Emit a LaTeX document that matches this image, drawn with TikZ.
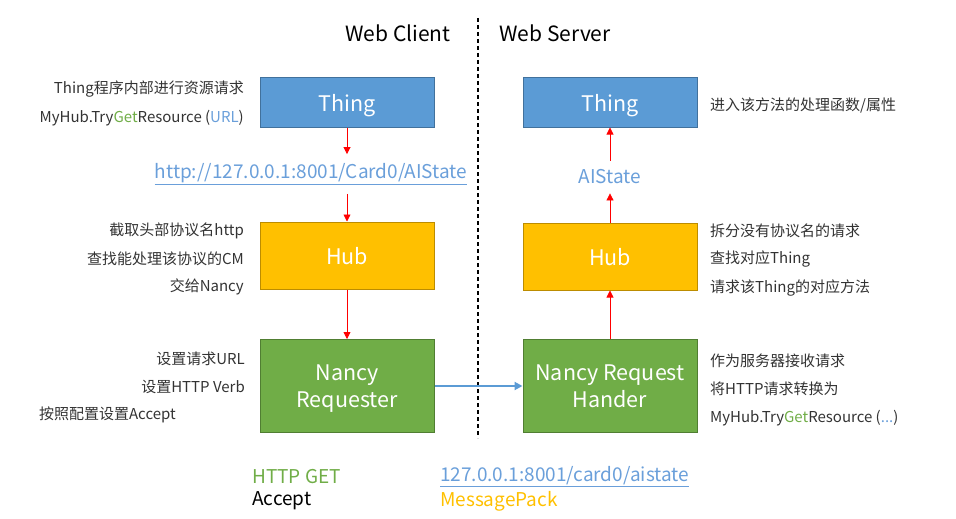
\documentclass[tikz,border=0pt]{standalone}
\usepackage{fontspec}
\setmainfont{Noto Sans CJK SC}
\usetikzlibrary{arrows.meta,positioning}

\definecolor{thingblue}{HTML}{5B9BD5}
\definecolor{thingedge}{HTML}{41719C}
\definecolor{hubyellow}{HTML}{FFC000}
\definecolor{hubedge}{HTML}{BC8C00}
\definecolor{nancygreen}{HTML}{70AD47}
\definecolor{nancyedge}{HTML}{507E32}
\definecolor{linkblue}{HTML}{6A9FDA}
\definecolor{notegray}{HTML}{333333}

\begin{document}
\begin{tikzpicture}
  [x=1pt,y=-1pt,
   box/.style={draw,line width=1pt,minimum width=174pt,inner sep=0pt,text depth=0pt,
     text=white,align=center,font=\fontsize{21.5}{27.5}\selectfont},
   thingbox/.style={box,fill=thingblue,draw=thingedge,minimum height=49pt},
   hubbox/.style={box,fill=hubyellow,draw=hubedge,minimum height=67pt},
   nancybox/.style={box,fill=nancygreen,draw=nancyedge,minimum height=93pt},
   note/.style={inner sep=0pt,text=notegray,font=\fontsize{15}{17}\selectfont},
   notel/.style={note,anchor=east},
   noter/.style={note,anchor=west},
   title/.style={inner sep=0pt,text=black,font=\fontsize{21}{24}\selectfont},
   link/.style={inner xsep=0pt,inner ysep=9pt,text=linkblue,font=\fontsize{19}{22}\selectfont},
   legend/.style={inner sep=0pt,anchor=west,font=\fontsize{19}{22}\selectfont},
   post/.style={-{Triangle[length=7pt,width=7pt]},red,line width=0.8pt},
   wire/.style={-{Triangle[length=8pt,width=8pt]},thingblue,line width=2pt}]

  \useasboundingbox (0,0) rectangle (956,519);

  % column titles and divider
  \node[title] (client title) at (398,33) {Web Client};
  \node[title] (server title) at (555,33) {Web Server};
  \coordinate (divide top) at (478,18);
  \coordinate (divide bottom) at (478,438);
  \draw[line width=1.3pt,dash pattern=on 4pt off 3pt] (divide top) -- (divide bottom);

  % client side
  \node[thingbox] (client thing) at (347,102.5) {Thing};
  \node[link]     (url)          at (311,174)
    {\underline{http://127.0.0.1:8001/Card0/AIState}};
  \node[hubbox]   (client hub)   at (347,255.5) {Hub};
  \node[nancybox] (requester)    at (347,386) {Nancy\\Requester};

  % server side
  \node[thingbox] (server thing) at (610,102.5) {Thing};
  \node[link]     (aistate)      at (610,177) {AIState};
  \node[hubbox]   (server hub)   at (610,256.5) {Hub};
  \node[nancybox] (handler)      at (610,386) {Nancy Request\\Hander};

  % flow
  \draw[post] (client thing) -- (client thing.south |- url.north);
  \draw[post] (client thing.south |- url.south) -- (client hub);
  \draw[post] (client hub) -- (requester);
  \draw[wire] (requester) -- (handler);
  \draw[post] (handler) -- (server hub);
  \draw[post] (server hub) -- (aistate);
  \draw[post] (aistate) -- (server thing);

  % notes, client
  \node[notel] (thing note a) at (244,89)  {Thing程序内部进行资源请求};
  \node[notel] (thing note b) at (244,118)
    {MyHub.Try\textcolor{nancygreen}{Get}Resource (\textcolor{linkblue}{URL})};
  \node[notel] (hub note a) at (244,231) {截取头部协议名http};
  \node[notel] (hub note b) at (244,259) {查找能处理该协议的CM};
  \node[notel] (hub note c) at (244,287) {交给Nancy};
  \node[notel] (req note a) at (245,359) {设置请求URL};
  \node[notel] (req note b) at (245,387) {设置HTTP Verb};
  \node[notel] (req note c) at (176,415) {按照配置设置Accept};

  % notes, server
  \node[noter] (method note) at (710,105) {进入该方法的处理函数/属性};
  \node[noter] (split note a) at (710,231) {拆分没有协议名的请求};
  \node[noter] (split note b) at (710,259) {查找对应Thing};
  \node[noter] (split note c) at (710,288) {请求该Thing的对应方法};
  \node[noter] (serve note a) at (710,361) {作为服务器接收请求};
  \node[noter] (serve note b) at (710,389) {将HTTP请求转换为};
  \node[noter] (serve note c) at (710,418)
    {MyHub.Try\textcolor{nancygreen}{Get}Resource (\textcolor{linkblue}{...})};

  % request line
  \node[legend,text=nancygreen] (verb)   at (252,477) {HTTP GET};
  \node[legend,text=black]      (accept) at (252,501) {Accept};
  \node[legend,text=linkblue]   (path)   at (440,477) {\underline{127.0.0.1:8001/card0/aistate}};
  \node[legend,text=hubyellow]  (format) at (440,501) {MessagePack};
\end{tikzpicture}
\end{document}
